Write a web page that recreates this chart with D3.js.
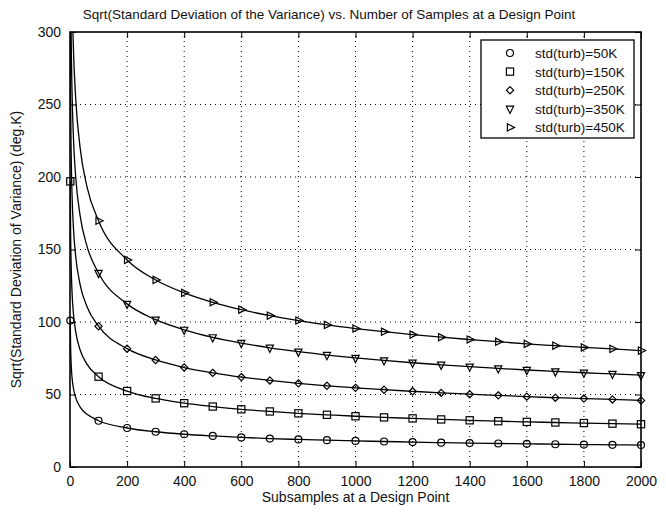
<!DOCTYPE html>
<html>
<head>
<meta charset="utf-8">
<script src="https://cdn.jsdelivr.net/npm/d3@7"></script>
<style>
  body { margin: 0; background: #fff; }
  text { font-family: "Liberation Sans", Arial, sans-serif; fill: #111; }
</style>
</head>
<body>
<div id="chart"></div>
<script>
// sample counts (line points), markers sit at n=1 and every 100
const samples = [1, 2, 4, 7, 12, 20, 35, 60, 100, 200, 300, 400, 500, 600, 700, 800, 900, 1000,
  1100, 1200, 1300, 1400, 1500, 1600, 1700, 1800, 1900, 2000];

const labels = ["std(turb)=50K", "std(turb)=150K", "std(turb)=250K", "std(turb)=350K", "std(turb)=450K"];

const s50 = [101, 85, 71.4, 62.1, 54.3, 47.8, 41.5, 36.3, 31.9, 26.9, 24.3, 22.6, 21.4, 20.4, 19.6,
  19.0, 18.5, 18.0, 17.6, 17.2, 16.8, 16.5, 16.2, 16.0, 15.7, 15.5, 15.3, 15.1];
const s150 = [197, 165.7, 139.3, 121.1, 105.8, 93.2, 81.0, 70.8, 62.3, 52.4, 47.3, 44.0, 41.7, 39.8,
  38.3, 37.0, 36.0, 35.0, 34.2, 33.5, 32.8, 32.2, 31.6, 31.1, 30.7, 30.3, 29.9, 29.5];
const s250 = [307, 258.2, 217.1, 188.7, 165.0, 145.2, 126.2, 110.3, 97.1, 81.6, 73.8, 68.6, 64.9, 62.0,
  59.7, 57.7, 56.0, 54.6, 53.3, 52.2, 51.1, 50.2, 49.4, 48.5, 47.8, 47.2, 46.6, 45.9];
const s350 = [423, 355.7, 299.1, 260.1, 227.3, 200.0, 173.9, 152.0, 133.8, 112.5, 101.6, 94.6, 89.4, 85.5,
  82.2, 79.5, 77.2, 75.2, 73.5, 71.9, 70.5, 69.2, 68.0, 66.9, 65.9, 65.0, 64.2, 63.3];
const s450 = [537, 451.6, 379.7, 330.2, 288.5, 254.0, 220.8, 192.9, 169.8, 142.8, 129.0, 120.1, 113.6, 108.5,
  104.4, 101.0, 98.0, 95.5, 93.3, 91.3, 89.5, 87.9, 86.4, 84.9, 83.7, 82.5, 81.5, 80.3];

const xTicks = d3.range(0, 2001, 200);
const yTicks = d3.range(0, 301, 50);

const series = [s50, s150, s250, s350, s450].map((vals, i) => ({
  name: labels[i],
  shape: ["circle", "square", "diamond", "tridown", "triright"][i],
  pts: samples.map((n, j) => ({n, v: vals[j]}))
}));

let width = 666, height = 512;
const margin = {left: 70, right: 25, top: 32, bottom: 45};

const x = d3.scaleLinear().domain([0, 2000]).range([margin.left, width - margin.right]);
const y = d3.scaleLinear().domain([0, 300]).range([height - margin.bottom, margin.top]);

const svg = d3.select("#chart").append("svg")
  .attr("width", width).attr("height", height);

svg.append("defs").append("clipPath").attr("id", "clip")
  .append("rect")
  .attr("x", x(0)).attr("y", y(300))
  .attr("width", x(2000) - x(0)).attr("height", y(0) - y(300));

// grid
const grid = svg.append("g").attr("stroke", "#000").attr("stroke-width", 1)
  .attr("stroke-dasharray", "1,4");
grid.selectAll(".gx").data(xTicks.slice(1, -1)).join("line")
  .attr("x1", d => x(d)).attr("x2", d => x(d))
  .attr("y1", y(0)).attr("y2", y(300));
grid.selectAll(".gy").data(yTicks.slice(1, -1)).join("line")
  .attr("y1", d => y(d)).attr("y2", d => y(d))
  .attr("x1", x(0)).attr("x2", x(2000));

// axes with inward ticks, MATLAB style
const fmt = d3.format("d");
svg.append("g").attr("transform", `translate(0,${y(0)})`)
  .call(d3.axisBottom(x).tickValues(xTicks).tickFormat(fmt).tickSizeInner(-6).tickSizeOuter(0).tickPadding(9))
  .call(g => g.select(".domain").remove());
svg.append("g").attr("transform", `translate(0,${y(300)})`)
  .call(d3.axisTop(x).tickValues(xTicks).tickFormat("").tickSizeInner(-6).tickSizeOuter(0))
  .call(g => g.select(".domain").remove());
svg.append("g").attr("transform", `translate(${x(0)},0)`)
  .call(d3.axisLeft(y).tickValues(yTicks).tickFormat(fmt).tickSizeInner(-6).tickSizeOuter(0).tickPadding(9))
  .call(g => g.select(".domain").remove());
svg.append("g").attr("transform", `translate(${x(2000)},0)`)
  .call(d3.axisRight(y).tickValues(yTicks).tickFormat("").tickSizeInner(-6).tickSizeOuter(0))
  .call(g => g.select(".domain").remove());
svg.selectAll(".tick text").attr("font-size", 14).attr("fill", "#111");
svg.selectAll(".tick line").attr("stroke", "#000");

// curves, clipped at the box
const line = d3.line().x(d => x(d.n)).y(d => y(d.v)).curve(d3.curveMonotoneX);
const plot = svg.append("g").attr("clip-path", "url(#clip)");
plot.selectAll("path.curve").data(series).join("path")
  .attr("class", "curve")
  .attr("fill", "none").attr("stroke", "#000").attr("stroke-width", 1.3)
  .attr("d", d => line(d.pts));

// box
svg.append("rect")
  .attr("x", x(0)).attr("y", y(300))
  .attr("width", x(2000) - x(0)).attr("height", y(0) - y(300))
  .attr("fill", "none").attr("stroke", "#000").attr("stroke-width", 1.6);

function marker(sel, shape) {
  const r = 3.6;
  if (shape === "circle") sel.append("circle").attr("r", 3.5);
  else if (shape === "square") sel.append("rect").attr("x", -r).attr("y", -r).attr("width", 2 * r).attr("height", 2 * r);
  else if (shape === "diamond") sel.append("path").attr("d", `M0,${-r}L${r},0L0,${r}L${-r},0Z`);
  else if (shape === "tridown") sel.append("path").attr("d", `M${-r},${-r + 1}L${r},${-r + 1}L0,${r + 1}Z`);
  else sel.append("path").attr("d", `M${-r + 1},${-r}L${r + 1},0L${-r + 1},${r}Z`);
}

// markers are not clipped (as in MATLAB)
const marks = svg.append("g");
series.forEach(s => {
  const pts = s.pts.filter(p => (p.n === 1 || p.n % 100 === 0) && p.v <= 300);
  marks.selectAll(null).data(pts).join("g")
    .attr("transform", p => `translate(${x(p.n)},${y(p.v)})`)
    .attr("fill", "none").attr("stroke", "#000").attr("stroke-width", 1.2)
    .each(function() { marker(d3.select(this), s.shape); });
});

// legend
const lg = svg.append("g").attr("transform", "translate(481,40)");
lg.append("rect").attr("width", 153).attr("height", 98)
  .attr("fill", "#fff").attr("stroke", "#000").attr("stroke-width", 1.3);
series.forEach((s, i) => {
  const row = lg.append("g").attr("transform", `translate(0,${13 + i * 18.6})`);
  row.append("g").attr("transform", "translate(29,0)")
    .attr("fill", "none").attr("stroke", "#000").attr("stroke-width", 1.2)
    .call(g => marker(g, s.shape));
  row.append("text").attr("x", 54).attr("y", 5).attr("font-size", 13.5).text(s.name);
});

// titles
svg.append("text").attr("x", 329).attr("y", 19).attr("text-anchor", "middle")
  .attr("font-size", 13.5).text("Sqrt(Standard Deviation of the Variance) vs. Number of Samples at a Design Point");
svg.append("text").attr("x", x(1000)).attr("y", 502).attr("text-anchor", "middle")
  .attr("font-size", 14).text("Subsamples at a Design Point");
svg.append("text").attr("transform", `translate(21,${y(150)}) rotate(-90)`).attr("text-anchor", "middle")
  .attr("font-size", 14).text("Sqrt(Standard Deviation of Variance) (deg.K)");
</script>
</body>
</html>
